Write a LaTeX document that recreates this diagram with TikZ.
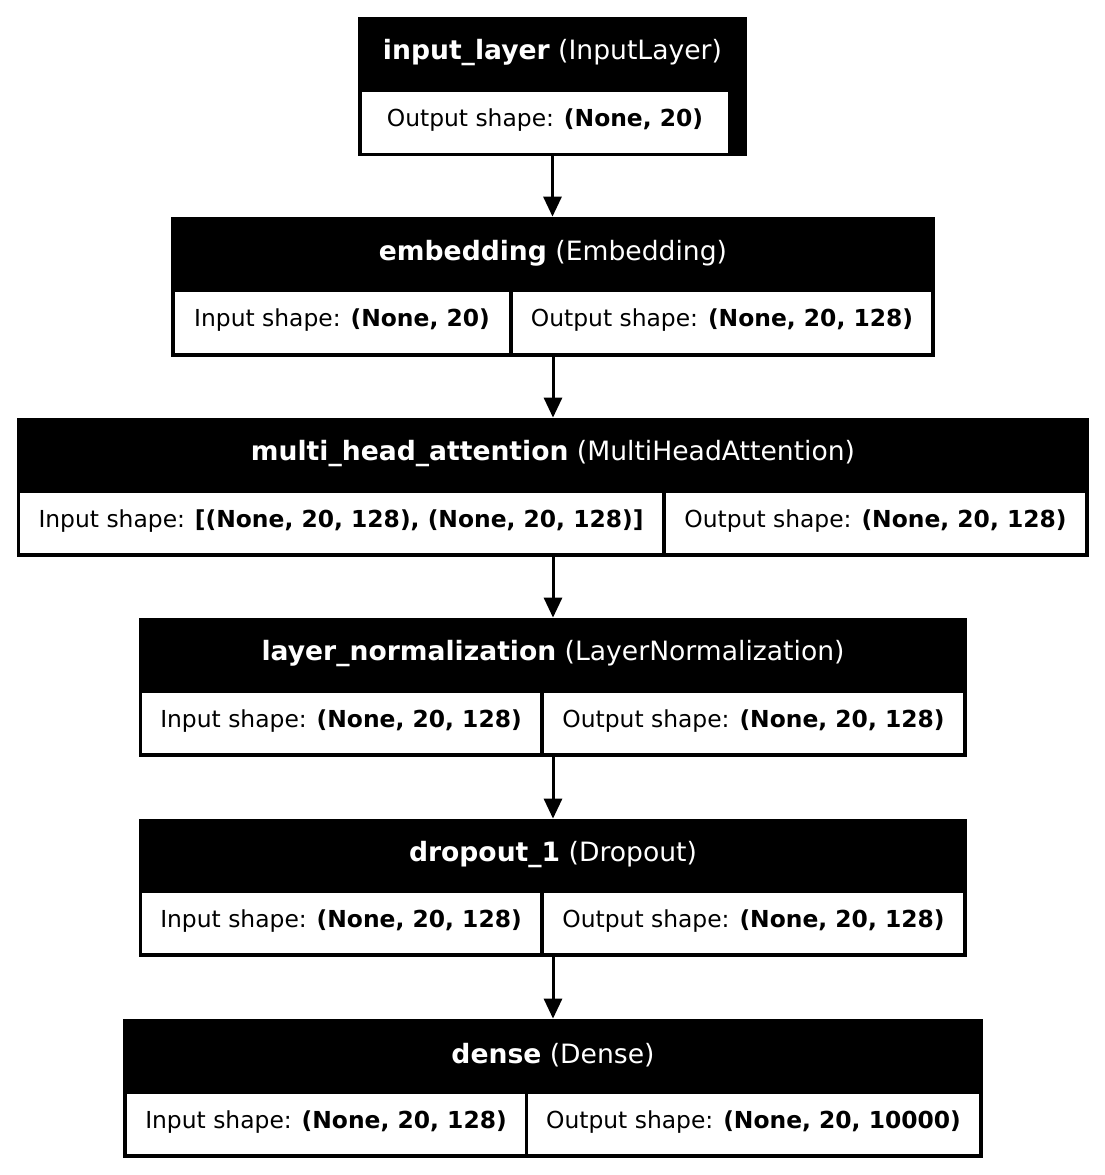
\documentclass[tikz,border=0pt]{standalone}
\usepackage{fontspec}
\setmainfont{DejaVu Sans}
\usetikzlibrary{fit,arrows.meta}
\begin{document}
\begin{tikzpicture}[x=0.5pt,y=-0.5pt,
  font=\fontsize{11.7pt}{14pt}\selectfont,
  outer/.style={fill=black, draw=none, inner sep=0pt},
  cellbox/.style={fill=white, draw=none, inner sep=0pt},
  hdr/.style={text=white, inner sep=0pt, font=\fontsize{13.3pt}{16pt}\selectfont},
  txt/.style={text=black, inner sep=0pt},
  arr/.style={line width=1.5pt, -{Triangle[length=10pt,width=9pt]}}]
\useasboundingbox (0,0) rectangle (1105,1175);

% block 1
\node[outer, fit={(358,17)(747,156)}] (b1) {};
\node[hdr] (b1h) at (552.5,53) {\textbf{input\_layer} (InputLayer)};
\node[cellbox, fit={(362,92)(728,153)}] (b1o) {};
\node[txt] (b1ot) at (545,120) {Output shape: \textbf{(None, 20)}};

% block 2
\node[outer, fit={(171,217)(935,357)}] (b2) {};
\node[hdr] (b2h) at (553,253) {\textbf{embedding} (Embedding)};
\node[cellbox, fit={(175,292)(509,353)}] (b2i) {};
\node[txt] (b2it) at (342,320) {Input shape: \textbf{(None, 20)}};
\node[cellbox, fit={(513,292)(931,353)}] (b2o) {};
\node[txt] (b2ot) at (722,320) {Output shape: \textbf{(None, 20, 128)}};

% block 3
\node[outer, fit={(17,418)(1089,557)}] (b3) {};
\node[hdr] (b3h) at (553,454) {\textbf{multi\_head\_attention} (MultiHeadAttention)};
\node[cellbox, fit={(20,493)(662,553)}] (b3i) {};
\node[txt] (b3it) at (341,521) {Input shape: \textbf{[(None, 20, 128), (None, 20, 128)]}};
\node[cellbox, fit={(666,493)(1085,553)}] (b3o) {};
\node[txt] (b3ot) at (875.5,521) {Output shape: \textbf{(None, 20, 128)}};

% block 4
\node[outer, fit={(139,618)(967,757)}] (b4) {};
\node[hdr] (b4h) at (553,654) {\textbf{layer\_normalization} (LayerNormalization)};
\node[cellbox, fit={(142,693)(540,753)}] (b4i) {};
\node[txt] (b4it) at (341,721) {Input shape: \textbf{(None, 20, 128)}};
\node[cellbox, fit={(544,693)(963,753)}] (b4o) {};
\node[txt] (b4ot) at (753.5,721) {Output shape: \textbf{(None, 20, 128)}};

% block 5
\node[outer, fit={(139,819)(967,957)}] (b5) {};
\node[hdr] (b5h) at (553,855) {\textbf{dropout\_1} (Dropout)};
\node[cellbox, fit={(142,893)(540,953)}] (b5i) {};
\node[txt] (b5it) at (341,921) {Input shape: \textbf{(None, 20, 128)}};
\node[cellbox, fit={(544,893)(963,953)}] (b5o) {};
\node[txt] (b5ot) at (753.5,921) {Output shape: \textbf{(None, 20, 128)}};

% block 6
\node[outer, fit={(123,1019)(983,1158)}] (b6) {};
\node[hdr] (b6h) at (553,1055) {\textbf{dense} (Dense)};
\node[cellbox, fit={(127,1094)(525,1154)}] (b6i) {};
\node[txt] (b6it) at (326,1122) {Input shape: \textbf{(None, 20, 128)}};
\node[cellbox, fit={(528,1094)(979,1154)}] (b6o) {};
\node[txt] (b6ot) at (753.5,1122) {Output shape: \textbf{(None, 20, 10000)}};

% connectors
\draw[arr] (b1.south) -- (b1.south |- b2.north);
\draw[arr] (b2.south) -- (b2.south |- b3.north);
\draw[arr] (b3.south) -- (b3.south |- b4.north);
\draw[arr] (b4.south) -- (b4.south |- b5.north);
\draw[arr] (b5.south) -- (b5.south |- b6.north);
\end{tikzpicture}
\end{document}
